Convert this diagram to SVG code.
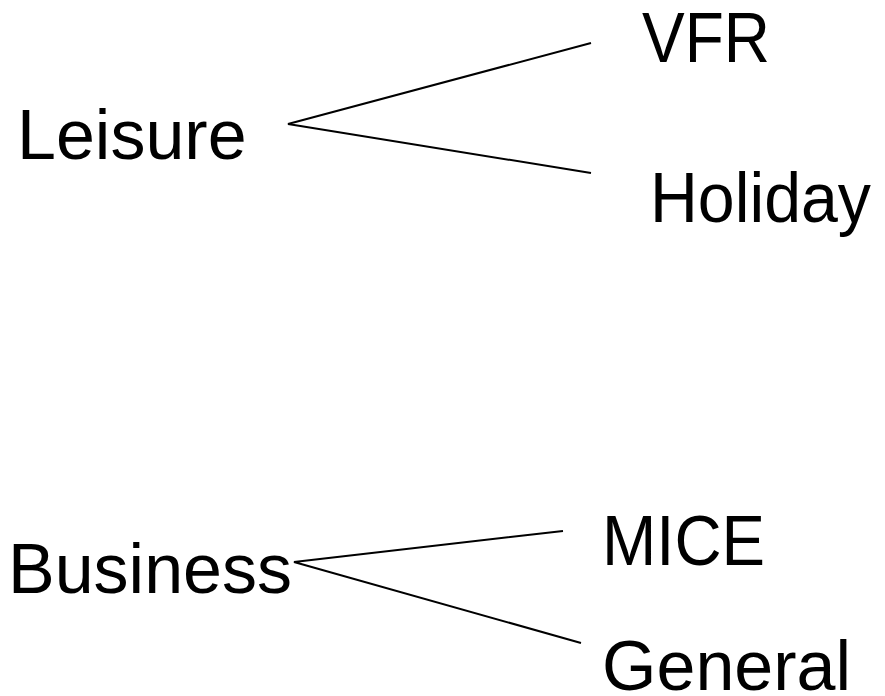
<svg xmlns="http://www.w3.org/2000/svg" width="885" height="696" viewBox="0 0 885 696">
<style>
.t{font-family:"Liberation Sans",Arial,sans-serif;font-size:70px;fill:#000}
.c{stroke:#000;stroke-width:2;fill:none}
</style>
<rect width="885" height="696" fill="#fff"/>
<g id="connectors">
<polyline class="c" points="591,43 288,124 591,173"/>
<polyline class="c" points="563,531 294,562 581,643"/>
</g>
<g id="leisure"><text class="t" x="17" y="159">Leisure</text></g>
<g id="vfr"><text class="t" x="642" y="62" textLength="128" lengthAdjust="spacingAndGlyphs">VFR</text></g>
<g id="holiday"><text class="t" x="650" y="222" textLength="221" lengthAdjust="spacingAndGlyphs">Holiday</text></g>
<g id="business"><text class="t" x="8" y="593">Business</text></g>
<g id="mice"><text class="t" x="602" y="565" textLength="163" lengthAdjust="spacingAndGlyphs">MICE</text></g>
<g id="general"><text class="t" x="602" y="690">General</text></g>
</svg>
